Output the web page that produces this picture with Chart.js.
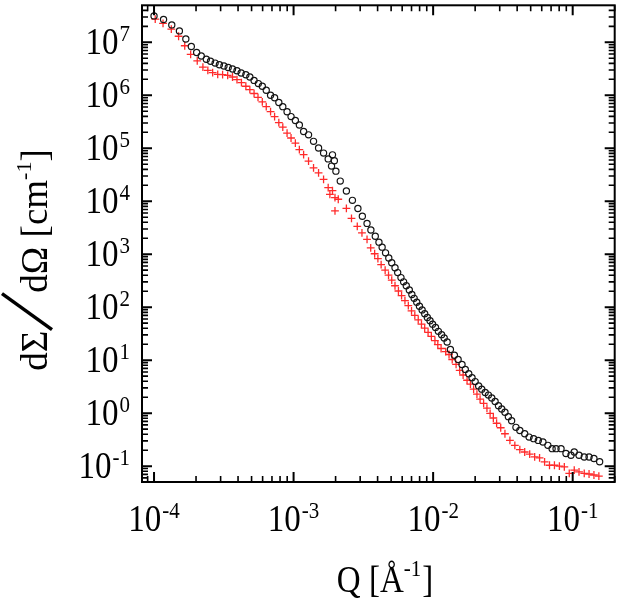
<!DOCTYPE html>
<html>
<head>
<meta charset="utf-8">
<script src="https://cdn.jsdelivr.net/npm/chart.js@4.4.1/dist/chart.umd.min.js"></script>
<style>
  html, body { margin: 0; padding: 0; background: #fff; }
  canvas { display: block; }
</style>
</head>
<body>
<canvas id="sans-chart" width="620" height="598"></canvas>
<script>
// Black open circles
const qCircle = [
    1.00e-4, 1.17e-4, 1.34e-4, 1.52e-4, 1.69e-4, 1.85e-4, 2.02e-4, 2.18e-4, 2.37e-4, 2.54e-4,
    2.74e-4, 2.94e-4, 3.17e-4, 3.40e-4, 3.65e-4, 3.93e-4, 4.21e-4, 4.55e-4, 4.86e-4, 5.21e-4,
    5.59e-4, 5.97e-4, 6.37e-4, 6.84e-4, 7.31e-4, 7.84e-4, 8.37e-4, 8.98e-4, 9.59e-4, 1.03e-3,
    1.10e-3, 1.18e-3, 1.28e-3, 1.39e-3, 1.51e-3, 1.64e-3, 1.77e-3, 1.87e-3, 1.90e-3, 1.96e-3,
    2.01e-3, 2.16e-3, 2.39e-3, 2.64e-3, 2.89e-3, 3.11e-3, 3.36e-3, 3.58e-3, 3.85e-3, 4.09e-3,
    4.31e-3, 4.56e-3, 4.81e-3, 5.05e-3, 5.33e-3, 5.57e-3, 5.88e-3, 6.14e-3, 6.42e-3, 6.75e-3,
    7.04e-3, 7.31e-3, 7.63e-3, 7.98e-3, 8.34e-3, 8.70e-3, 9.09e-3, 9.50e-3, 9.91e-3, 1.04e-2,
    1.09e-2, 1.15e-2, 1.20e-2, 1.26e-2, 1.33e-2, 1.42e-2, 1.51e-2, 1.61e-2, 1.70e-2, 1.80e-2,
    1.90e-2, 2.00e-2, 2.12e-2, 2.23e-2, 2.36e-2, 2.49e-2, 2.63e-2, 2.78e-2, 2.94e-2, 3.10e-2,
    3.27e-2, 3.46e-2, 3.65e-2, 3.92e-2, 4.18e-2, 4.53e-2, 4.87e-2, 5.25e-2, 5.67e-2, 6.12e-2,
    6.64e-2, 7.12e-2, 7.60e-2, 8.25e-2, 8.95e-2, 9.72e-2, 0.1026, 0.111, 0.121, 0.131,
    0.142, 0.156
];
const iCircle = [
    3.15e7, 2.70e7, 2.13e7, 1.64e7, 1.15e7, 8.3e6, 6.4e6, 5.5e6, 4.8e6, 4.4e6,
    4.05e6, 3.76e6, 3.56e6, 3.35e6, 3.13e6, 2.90e6, 2.63e6, 2.44e6, 2.21e6, 1.91e6,
    1.66e6, 1.48e6, 1.24e6, 1.00e6, 8.96e5, 7.3e5, 6.1e5, 4.9e5, 3.96e5, 3.33e5,
    2.75e5, 2.07e5, 1.79e5, 1.35e5, 1.01e5, 8.1e4, 6.3e4, 4.6e4, 7.5e4, 5.8e4,
    3.7e4, 2.4e4, 1.56e4, 1.04e4, 7.3e3, 5.2e3, 3.82e3, 2.86e3, 2.18e3, 1.69e3,
    1.36e3, 1.06e3, 847, 692, 557, 450, 362, 301, 254, 211,
    174, 147, 124, 104, 89, 75, 64, 55.5, 47.9, 41.6,
    35.0, 30.3, 26.2, 22.0, 15.9, 12.4, 10.3, 8.3, 6.7, 5.56,
    4.68, 3.94, 3.27, 2.84, 2.45, 2.19, 1.93, 1.66, 1.38, 1.20,
    1.04, 0.86, 0.72, 0.54, 0.47, 0.41, 0.353, 0.330, 0.306, 0.285,
    0.247, 0.214, 0.214, 0.214, 0.173, 0.161, 0.185, 0.161, 0.149, 0.149,
    0.139, 0.121
];

// Red crosses
const qCross = [
    1.02e-4, 1.16e-4, 1.33e-4, 1.50e-4, 1.66e-4, 1.83e-4, 2.04e-4, 2.24e-4, 2.43e-4, 2.63e-4,
    2.86e-4, 3.10e-4, 3.37e-4, 3.65e-4, 3.93e-4, 4.23e-4, 4.55e-4, 4.86e-4, 5.21e-4, 5.56e-4,
    5.97e-4, 6.37e-4, 6.84e-4, 7.31e-4, 7.84e-4, 8.37e-4, 8.98e-4, 9.59e-4, 1.03e-3, 1.10e-3,
    1.18e-3, 1.28e-3, 1.39e-3, 1.51e-3, 1.64e-3, 1.77e-3, 1.82e-3, 1.90e-3, 1.98e-3, 1.98e-3,
    2.09e-3, 2.39e-3, 2.60e-3, 2.86e-3, 3.09e-3, 3.36e-3, 3.57e-3, 3.81e-3, 4.02e-3, 4.24e-3,
    4.53e-3, 4.79e-3, 5.05e-3, 5.33e-3, 5.64e-3, 5.94e-3, 6.28e-3, 6.64e-3, 7.00e-3, 7.39e-3,
    7.82e-3, 8.25e-3, 8.70e-3, 9.20e-3, 9.71e-3, 1.03e-2, 1.08e-2, 1.14e-2, 1.23e-2, 1.30e-2,
    1.37e-2, 1.46e-2, 1.55e-2, 1.64e-2, 1.75e-2, 1.85e-2, 1.95e-2, 2.06e-2, 2.17e-2, 2.30e-2,
    2.43e-2, 2.56e-2, 2.70e-2, 2.85e-2, 3.05e-2, 3.27e-2, 3.55e-2, 3.85e-2, 4.18e-2, 4.53e-2,
    4.92e-2, 5.34e-2, 5.79e-2, 6.29e-2, 6.82e-2, 7.40e-2, 8.03e-2, 8.71e-2, 9.45e-2, 0.1026,
    0.111, 0.121, 0.131, 0.142, 0.154
];
const iCross = [
    2.73e7, 2.28e7, 1.77e7, 1.30e7, 8.6e6, 5.9e6, 4.47e6, 3.40e6, 2.94e6, 2.67e6,
    2.48e6, 2.45e6, 2.37e6, 2.21e6, 1.97e6, 1.73e6, 1.48e6, 1.28e6, 1.08e6, 9.1e5,
    7.5e5, 6.1e5, 4.9e5, 3.96e5, 3.05e5, 2.5e5, 1.93e5, 1.56e5, 1.25e5, 9.4e4,
    7.6e4, 5.7e4, 4.27e4, 3.44e4, 2.58e4, 1.80e4, 1.35e4, 1.58e4, 1.17e4, 6.6e3,
    1.09e4, 7.3e3, 4.74e3, 3.36e3, 2.52e3, 1.90e3, 1.32e3, 1.02e3, 822, 635,
    499, 403, 325, 254, 202, 165, 133, 107, 85.5, 69.8,
    57.8, 47.9, 40.3, 33.5, 28.2, 23.4, 19.7, 16.6, 14.5, 12.8,
    10.3, 8.3, 6.4, 5.25, 4.18, 3.52, 2.84, 2.29, 1.84, 1.53,
    1.25, 0.99, 0.81, 0.645, 0.530, 0.409, 0.306, 0.247, 0.205, 0.185,
    0.168, 0.149, 0.143, 0.120, 0.104, 0.104, 0.100, 0.097, 0.073, 0.084,
    0.078, 0.073, 0.071, 0.068, 0.065
];

// Axes
const xRange = [8.2e-5, 0.2];
const yRange = [0.0502, 4.99e7];
const xExponents = ['-4', '-3', '-2', '-1'];
const yExponents = ['7', '6', '5', '4', '3', '2', '1', '0', '-1'];
const minorSteps = [2, 3, 4, 5, 6, 7, 8, 9];

const FONT = '"Liberation Serif", "Times New Roman", serif';
const STRETCH = 1.13; // lettering in the original is a bit taller than wide

function textWidth(ctx, txt, size) {
    ctx.font = size + 'px ' + FONT;
    return ctx.measureText(txt).width;
}

function tallText(ctx, txt, x, y, size) {
    ctx.save();
    ctx.translate(x, y);
    ctx.scale(1, STRETCH);
    ctx.font = size + 'px ' + FONT;
    ctx.fillText(txt, 0, 0);
    ctx.restore();
}

function powerLabel(ctx, exp, x, baseY, align) {
    const wb = textWidth(ctx, '10', 33);
    const we = textWidth(ctx, exp, 21);
    const w = wb + 1 + we;
    const x0 = align === 'right' ? x - w : x - w / 2;
    tallText(ctx, '10', x0, baseY, 33);
    tallText(ctx, exp, x0 + wb + 1, baseY - 13, 21);
}

function tickValues(range) {
    const vals = [];
    for (let e = Math.floor(Math.log10(range[0])); e <= Math.ceil(Math.log10(range[1])); e++) {
        [1].concat(minorSteps).forEach(m => {
            const v = m * Math.pow(10, e);
            if (v >= range[0] && v <= range[1]) vals.push({ v: v, major: m === 1 });
        });
    }
    return vals;
}

// Frame, inward ticks on all four sides, labels and titles
const framePlugin = {
    id: 'frame',
    afterDraw(chart) {
        const ctx = chart.ctx;
        const a = chart.chartArea;
        const xs = chart.scales.x;
        const ys = chart.scales.y;
        ctx.save();
        ctx.strokeStyle = '#000';
        ctx.fillStyle = '#000';

        tickValues(xRange).forEach(t => {
            const px = xs.getPixelForValue(t.v);
            const len = t.major ? 10 : 6;
            ctx.lineWidth = t.major ? 2 : 1.6;
            ctx.beginPath();
            ctx.moveTo(px, a.bottom); ctx.lineTo(px, a.bottom - len);
            ctx.moveTo(px, a.top); ctx.lineTo(px, a.top + len);
            ctx.stroke();
        });
        tickValues(yRange).forEach(t => {
            const py = ys.getPixelForValue(t.v);
            const len = t.major ? 10 : 6;
            ctx.lineWidth = t.major ? 2 : 1.6;
            ctx.beginPath();
            ctx.moveTo(a.left, py); ctx.lineTo(a.left + len, py);
            ctx.moveTo(a.right, py); ctx.lineTo(a.right - len, py);
            ctx.stroke();
        });

        ctx.lineWidth = 2;
        ctx.strokeRect(a.left, a.top, a.right - a.left, a.bottom - a.top);

        ctx.textBaseline = 'alphabetic';
        ctx.textAlign = 'left';
        xExponents.forEach(e => {
            powerLabel(ctx, e, xs.getPixelForValue(Math.pow(10, Number(e))), 531, 'center');
        });
        yExponents.forEach(e => {
            powerLabel(ctx, e, 130, ys.getPixelForValue(Math.pow(10, Number(e))) + 12, 'right');
        });

        // x title: Q [Å^-1]
        const q1 = 'Q [Å', q2 = '-1', q3 = ']';
        const wq = textWidth(ctx, q1, 33) + textWidth(ctx, q2, 21) + textWidth(ctx, q3, 33) + 1;
        let tx = 385 - wq / 2;
        tallText(ctx, q1, tx, 592, 33);
        tx += textWidth(ctx, q1, 33);
        tallText(ctx, q2, tx, 576, 21);
        tx += textWidth(ctx, q2, 21) + 1;
        tallText(ctx, q3, tx, 592, 33);

        // y title: dΣ/dΩ [cm^-1]
        ctx.save();
        ctx.translate(47, 260);
        ctx.rotate(-Math.PI / 2);
        const p1 = 'dΣ', p2 = 'dΩ [cm', p3 = '-1', p4 = ']';
        const slashW = 38;
        const w1 = textWidth(ctx, p1, 37), w2 = textWidth(ctx, p2, 37);
        const w3 = textWidth(ctx, p3, 22), w4 = textWidth(ctx, p4, 37);
        let sx = -(w1 + slashW + w2 + w3 + w4) / 2;
        ctx.font = '37px ' + FONT;
        ctx.fillText(p1, sx, 0);
        sx += w1;
        ctx.lineWidth = 3.5;
        ctx.beginPath();
        ctx.moveTo(sx + 1, 5);
        ctx.lineTo(sx + slashW - 1, -45);
        ctx.stroke();
        sx += slashW;
        ctx.fillText(p2, sx, 0);
        sx += w2;
        ctx.font = '22px ' + FONT;
        ctx.fillText(p3, sx, -16);
        sx += w3;
        ctx.font = '37px ' + FONT;
        ctx.fillText(p4, sx, 0);
        ctx.restore();

        ctx.restore();
    }
};

const ctx = document.getElementById('sans-chart').getContext('2d');
const sansChart = new Chart(ctx, {
    type: 'scatter',
    data: {
        datasets: [{
            label: 'circles',
            data: qCircle.map((q, i) => ({ x: q, y: iCircle[i] })),
            pointStyle: 'circle',
            pointRadius: 3.1,
            borderWidth: 1.2,
            borderColor: '#151515',
            backgroundColor: 'rgba(255,255,255,0)'
        }, {
            label: 'crosses',
            data: qCross.map((q, i) => ({ x: q, y: iCross[i] })),
            pointStyle: 'cross',
            pointRadius: 3.9,
            borderWidth: 1.3,
            borderColor: '#ff2a2a',
            backgroundColor: '#ff2a2a'
        }]
    },
    options: {
        responsive: false,
        animation: false,
        devicePixelRatio: 1,
        layout: { padding: { left: 142, right: 1, top: 1, bottom: 116 } },
        plugins: {
            legend: { display: false },
            tooltip: { enabled: false }
        },
        scales: {
            x: { type: 'logarithmic', min: xRange[0], max: xRange[1], display: false },
            y: { type: 'logarithmic', min: yRange[0], max: yRange[1], display: false }
        }
    },
    plugins: [framePlugin]
});
</script>
</body>
</html>
